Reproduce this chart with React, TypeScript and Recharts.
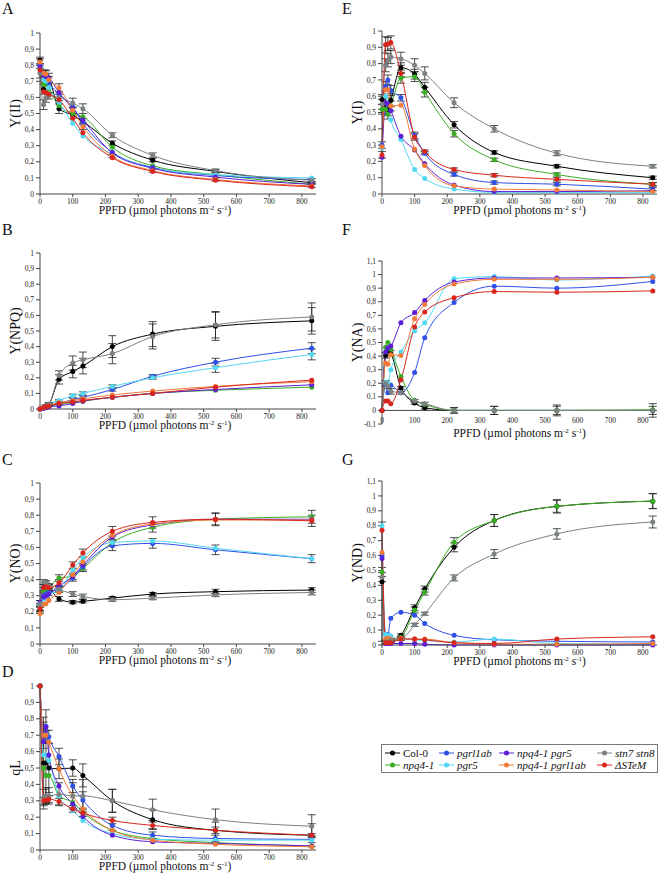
import React from "react";
import { LineChart, Line, XAxis, YAxis, ErrorBar, ReferenceLine } from "recharts";

const serif = "'Liberation Serif', 'DejaVu Serif', serif";

// PPFD steps of the light curve (µmol photons m-2 s-1)
const ppfd = [0, 11, 18, 27, 58, 100, 131, 221, 344, 536, 830];
const xTicks = [0, 100, 200, 300, 400, 500, 600, 700, 800];
const ticks01 = [0, 0.1, 0.2, 0.3, 0.4, 0.5, 0.6, 0.7, 0.8, 0.9, 1];
const ticksNA = [-0.1, 0, 0.1, 0.2, 0.3, 0.4, 0.5, 0.6, 0.7, 0.8, 0.9, 1, 1.1];
const ticksND = [0, 0.1, 0.2, 0.3, 0.4, 0.5, 0.6, 0.7, 0.8, 0.9, 1, 1.1];

const genotypes = ["col0", "npq4", "pgrl1ab", "pgr5", "npq4pgr5", "npq4pgrl1ab", "stn", "stem"];
const names: Record<string, string> = {
  col0: "Col-0",
  npq4: "npq4-1",
  pgrl1ab: "pgrl1ab",
  pgr5: "pgr5",
  npq4pgr5: "npq4-1 pgr5",
  npq4pgrl1ab: "npq4-1 pgrl1ab",
  stn: "stn7 stn8",
  stem: "ΔSTeM",
};
const colors: Record<string, string> = {
  col0: "#000000",
  npq4: "#3aae22",
  pgrl1ab: "#2f50e6",
  pgr5: "#52d8f2",
  npq4pgr5: "#5b1fd8",
  npq4pgrl1ab: "#f27a38",
  stn: "#7b8284",
  stem: "#d8261e",
};

// Y(II)
const yII = {
  col0: [0.83, 0.65, 0.74, 0.72, 0.53, 0.49, 0.45, 0.315, 0.21, 0.14, 0.07],
  npq4: [0.78, 0.68, 0.68, 0.65, 0.55, 0.5, 0.48, 0.29, 0.175, 0.12, 0.06],
  pgrl1ab: [0.8, 0.74, 0.72, 0.69, 0.62, 0.54, 0.44, 0.26, 0.165, 0.115, 0.09],
  pgr5: [0.78, 0.71, 0.7, 0.66, 0.57, 0.44, 0.36, 0.25, 0.16, 0.12, 0.1],
  npq4pgr5: [0.79, 0.74, 0.73, 0.72, 0.63, 0.53, 0.46, 0.255, 0.16, 0.105, 0.06],
  npq4pgrl1ab: [0.82, 0.75, 0.745, 0.71, 0.66, 0.52, 0.42, 0.235, 0.145, 0.09, 0.05],
  stn: [0.75, 0.555, 0.6, 0.61, 0.6, 0.565, 0.53, 0.365, 0.24, 0.145, 0.085],
  stem: [0.77, 0.635, 0.63, 0.62, 0.585, 0.47, 0.38, 0.225, 0.14, 0.085, 0.045],
};
const yIIErr = {
  col0: [0.02, 0.03, 0.03, 0.03, 0.03, 0.02, 0.02, 0.015, 0.01, 0.01, 0.005],
  stn: [0.03, 0.03, 0.03, 0.02, 0.02, 0.03, 0.03, 0.015, 0.015, 0.01, 0.01],
  npq4pgrl1ab: [0.02, 0.02, 0.02, 0.02, 0.025, 0.02, 0.02, 0.01, 0.01, 0.01, 0.01],
};

// Y(NPQ)
const yNPQ = {
  col0: [0, 0.01, 0.02, 0.03, 0.19, 0.24, 0.275, 0.4, 0.48, 0.53, 0.565],
  npq4: [0, 0.005, 0.01, 0.015, 0.03, 0.04, 0.05, 0.075, 0.1, 0.12, 0.14],
  pgrl1ab: [0, 0.005, 0.01, 0.02, 0.035, 0.06, 0.075, 0.125, 0.21, 0.3, 0.39],
  pgr5: [0, 0.01, 0.02, 0.03, 0.055, 0.085, 0.1, 0.145, 0.2, 0.265, 0.35],
  npq4pgr5: [0, 0.005, 0.01, 0.015, 0.02, 0.035, 0.05, 0.075, 0.1, 0.125, 0.155],
  npq4pgrl1ab: [0, 0.01, 0.02, 0.025, 0.04, 0.055, 0.065, 0.09, 0.115, 0.145, 0.175],
  stn: [0, 0.01, 0.02, 0.03, 0.215, 0.295, 0.315, 0.355, 0.465, 0.54, 0.59],
  stem: [0, 0.01, 0.015, 0.02, 0.035, 0.045, 0.055, 0.075, 0.1, 0.14, 0.185],
};
const yNPQErr = {
  col0: [0, 0.005, 0.005, 0.01, 0.03, 0.04, 0.05, 0.07, 0.08, 0.09, 0.085],
  stn: [0, 0.005, 0.005, 0.01, 0.03, 0.045, 0.05, 0.065, 0.08, 0.085, 0.09],
  pgrl1ab: [0, 0, 0, 0.005, 0.005, 0.01, 0.01, 0.01, 0.01, 0.025, 0.035],
  pgr5: [0, 0, 0, 0.005, 0.005, 0.01, 0.01, 0.01, 0.01, 0.03, 0.035],
};

// Y(NO)
const yNO = {
  col0: [0.21, 0.35, 0.365, 0.35, 0.28, 0.26, 0.265, 0.285, 0.31, 0.325, 0.335],
  npq4: [0.23, 0.33, 0.34, 0.35, 0.41, 0.42, 0.47, 0.63, 0.725, 0.775, 0.79],
  pgrl1ab: [0.25, 0.3, 0.31, 0.32, 0.34, 0.41, 0.48, 0.61, 0.625, 0.585, 0.53],
  pgr5: [0.24, 0.28, 0.3, 0.31, 0.33, 0.46, 0.535, 0.63, 0.64, 0.595, 0.53],
  npq4pgr5: [0.26, 0.29, 0.3, 0.31, 0.36, 0.42, 0.49, 0.665, 0.74, 0.775, 0.775],
  npq4pgrl1ab: [0.19, 0.245, 0.25, 0.27, 0.32, 0.43, 0.51, 0.675, 0.745, 0.77, 0.77],
  stn: [0.25, 0.385, 0.38, 0.36, 0.34, 0.31, 0.295, 0.275, 0.285, 0.305, 0.32],
  stem: [0.22, 0.35, 0.355, 0.35, 0.38, 0.49, 0.565, 0.7, 0.755, 0.775, 0.765],
};
const yNOErr = {
  col0: [0.02, 0.02, 0.02, 0.015, 0.015, 0.01, 0.01, 0.01, 0.01, 0.015, 0.015],
  stn: [0.02, 0.015, 0.015, 0.015, 0.015, 0.015, 0.015, 0.01, 0.01, 0.01, 0.015],
  stem: [0.02, 0.02, 0.02, 0.02, 0.02, 0.02, 0.025, 0.03, 0.035, 0.035, 0.035],
  pgrl1ab: [0.02, 0.02, 0.02, 0.02, 0.02, 0.02, 0.02, 0.03, 0.03, 0.03, 0.025],
  npq4: [0.02, 0.02, 0.02, 0.02, 0.02, 0.02, 0.02, 0.02, 0.03, 0.04, 0.04],
};

// qL
const qL = {
  col0: [1, 0.53, 0.53, 0.5, 0.495, 0.5, 0.455, 0.3, 0.185, 0.12, 0.09],
  npq4: [1, 0.5, 0.455, 0.455, 0.33, 0.29, 0.23, 0.12, 0.07, 0.045, 0.025],
  pgrl1ab: [1, 0.7, 0.755, 0.69, 0.57, 0.39, 0.305, 0.15, 0.09, 0.07, 0.065],
  pgr5: [1, 0.58, 0.58, 0.545, 0.33, 0.24, 0.18, 0.1, 0.065, 0.06, 0.06],
  npq4pgr5: [1, 0.66, 0.75, 0.58, 0.39, 0.28, 0.205, 0.09, 0.05, 0.04, 0.025],
  npq4pgrl1ab: [1, 0.7, 0.7, 0.655, 0.495, 0.33, 0.25, 0.12, 0.06, 0.035, 0.02],
  stn: [1, 0.32, 0.33, 0.33, 0.34, 0.33, 0.33, 0.3, 0.245, 0.185, 0.145],
  stem: [1, 0.3, 0.305, 0.31, 0.295, 0.25, 0.225, 0.18, 0.15, 0.12, 0.09],
};
const qLErr = {
  col0: [0, 0.28, 0.2, 0.15, 0.06, 0.05, 0.07, 0.07, 0.06, 0.05, 0.07],
  stn: [0, 0.05, 0.05, 0.05, 0.07, 0.08, 0.1, 0.07, 0.065, 0.065, 0.07],
  pgrl1ab: [0, 0.08, 0.1, 0.04, 0.05, 0.04, 0.05, 0.03, 0.02, 0.02, 0.02],
  stem: [0, 0.02, 0.02, 0.02, 0.02, 0.02, 0.02, 0.02, 0.02, 0.02, 0.01],
};

// Y(I)
const yI = {
  col0: [0.58, 0.55, 0.52, 0.575, 0.775, 0.735, 0.655, 0.425, 0.255, 0.17, 0.1],
  npq4: [0.52, 0.52, 0.49, 0.54, 0.71, 0.72, 0.625, 0.37, 0.21, 0.12, 0.06],
  pgrl1ab: [0.3, 0.66, 0.7, 0.635, 0.59, 0.36, 0.25, 0.12, 0.07, 0.06, 0.03],
  pgr5: [0.28, 0.6, 0.55, 0.455, 0.335, 0.15, 0.095, 0.03, 0.01, 0.01, 0.01],
  npq4pgr5: [0.225, 0.56, 0.55, 0.51, 0.355, 0.27, 0.185, 0.055, 0.015, 0.015, 0.02],
  npq4pgrl1ab: [0.29, 0.64, 0.64, 0.54, 0.545, 0.275, 0.175, 0.05, 0.03, 0.025, 0.015],
  stn: [0.55, 0.79, 0.82, 0.84, 0.83, 0.79, 0.74, 0.56, 0.4, 0.25, 0.17],
  stem: [0.24, 0.915, 0.92, 0.93, 0.74, 0.35, 0.26, 0.15, 0.115, 0.09, 0.06],
};
const yIErr = {
  col0: [0.03, 0.04, 0.04, 0.04, 0.03, 0.03, 0.03, 0.02, 0.01, 0.01, 0.01],
  stn: [0.03, 0.04, 0.04, 0.04, 0.04, 0.04, 0.04, 0.03, 0.02, 0.015, 0.01],
  stem: [0.02, 0.05, 0.04, 0.04, 0.02, 0.02, 0.01, 0.01, 0.01, 0.01, 0.01],
  npq4: [0.03, 0.03, 0.03, 0.03, 0.03, 0.03, 0.03, 0.02, 0.01, 0.01, 0.01],
  pgrl1ab: [0.02, 0.03, 0.03, 0.03, 0.02, 0.02, 0.01, 0.01, 0.01, 0.01, 0.01],
};

// Y(NA)
const yNA = {
  col0: [0, 0.405, 0.44, 0.42, 0.165, 0.055, 0.02, 0, 0, 0, 0],
  npq4: [0, 0.465, 0.5, 0.45, 0.25, 0.075, 0.045, 0, 0, 0, 0.005],
  pgrl1ab: [0, 0.19, 0.13, 0.185, 0.13, 0.28, 0.535, 0.795, 0.915, 0.9, 0.95],
  pgr5: [0, 0.21, 0.2, 0.3, 0.43, 0.585, 0.645, 0.97, 0.985, 0.96, 0.99],
  npq4pgr5: [0, 0.43, 0.46, 0.475, 0.645, 0.72, 0.81, 0.945, 0.975, 0.975, 0.98],
  npq4pgrl1ab: [0, 0.35, 0.34, 0.41, 0.405, 0.675, 0.78, 0.93, 0.965, 0.965, 0.98],
  stn: [0, 0.2, 0.18, 0.14, 0.13, 0.07, 0.05, 0, 0, 0, 0],
  stem: [0, 0.07, 0.07, 0.05, 0.225, 0.615, 0.725, 0.83, 0.875, 0.87, 0.88],
};
const yNAErr = {
  col0: [0, 0.02, 0.02, 0.02, 0.01, 0.01, 0.01, 0.02, 0.03, 0.04, 0.03],
  stn: [0, 0.02, 0.02, 0.02, 0.01, 0.01, 0.01, 0.02, 0.03, 0.03, 0.05],
};

// Y(ND)
const yND = {
  col0: [0.425, 0.015, 0.015, 0.02, 0.065, 0.25, 0.375, 0.655, 0.835, 0.93, 0.965],
  npq4: [0.49, 0.02, 0.02, 0.03, 0.05, 0.235, 0.355, 0.69, 0.835, 0.93, 0.965],
  pgrl1ab: [0.6, 0.07, 0.07, 0.18, 0.22, 0.2, 0.145, 0.065, 0.035, 0.025, 0.02],
  pgr5: [0.8, 0.07, 0.065, 0.06, 0.04, 0.035, 0.03, 0.02, 0.04, 0.01, 0.005],
  npq4pgr5: [0.58, 0.01, 0.01, 0.01, 0.01, 0.01, 0.005, 0, 0, 0, 0],
  npq4pgrl1ab: [0.62, 0.04, 0.045, 0.04, 0.045, 0.04, 0.04, 0.015, 0.005, 0.005, 0.01],
  stn: [0.455, 0.02, 0.02, 0.03, 0.04, 0.135, 0.21, 0.45, 0.61, 0.745, 0.825],
  stem: [0.77, 0.015, 0.015, 0.015, 0.04, 0.04, 0.035, 0.015, 0.01, 0.04, 0.055],
};
const yNDErr = {
  col0: [0.4, 0.01, 0.01, 0.01, 0.01, 0.02, 0.02, 0.03, 0.04, 0.045, 0.05],
  npq4: [0.03, 0.01, 0.01, 0.01, 0.01, 0.02, 0.02, 0.03, 0.04, 0.04, 0.05],
  stn: [0.03, 0.01, 0.01, 0.01, 0.01, 0.01, 0.01, 0.02, 0.03, 0.035, 0.04],
};

const fmt = (v: number) => String(Math.round(v * 10) / 10).replace(".", ",");

function XLabel(props: any) {
  const vb = props.viewBox || { x: 0, y: 0, width: 0 };
  const cx = vb.x + vb.width / 2 + (props.hShift || 0);
  const y = vb.y + (props.vOff || 20);
  return (
    <text x={cx} y={y} textAnchor="middle" fontFamily={serif} fontSize={11.5} fill="#111">
      PPFD (µmol photons m<tspan dy={-4} fontSize={7}>-2</tspan>
      <tspan dy={4}> s</tspan>
      <tspan dy={-4} fontSize={7}>-1</tspan>
      <tspan dy={4}>)</tspan>
    </text>
  );
}

function makeXTick(dy: number) {
  return (p: any) => (
    <text x={p.x} y={p.y} dy={dy} textAnchor="middle" fontSize={7.5} fontFamily={serif} fill="#222">
      {p.payload.value}
    </text>
  );
}

type PanelProps = {
  vals: Record<string, number[]>;
  errs: Record<string, number[]>;
  yLabel: string;
  yTicks: number[];
  yDomain: [number, number];
  left: number;
  top: number;
  plotH: number;
  zeroAxis?: boolean;
};

function Panel({ vals, errs, yLabel, yTicks, yDomain, left, top, plotH, zeroAxis }: PanelProps) {
  const rows = ppfd.map((x, i) => {
    const r: Record<string, number> = { x };
    genotypes.forEach((g) => {
      r[g] = vals[g][i];
      if (errs[g]) r[g + "Err"] = errs[g][i];
    });
    return r;
  });
  const isLeft = left === 0;
  const width = isLeft ? 318 : 316;
  const mr = isLeft ? 2 : 1;
  return (
    <div style={{ position: "absolute", left, top }}>
      <LineChart
        width={width}
        height={plotH + 8 + 28}
        data={rows}
        margin={{ top: 8, right: mr, left: 0, bottom: 0 }}
      >
        <XAxis
          dataKey="x"
          type="number"
          domain={[0, 843]}
          ticks={xTicks}
          interval={0}
          tickSize={3}
          tickMargin={1}
          stroke="#444"
          axisLine={!zeroAxis}
          tickLine={!zeroAxis}
          tick={makeXTick(zeroAxis ? -5 : 5.5)}
          height={28}
          label={<XLabel hShift={isLeft ? -13 : 0} vOff={zeroAxis ? 13 : 20} />}
        />
        <YAxis
          type="number"
          domain={yDomain}
          ticks={yTicks}
          interval={0}
          width={40}
          tickSize={4}
          tickMargin={2}
          stroke="#444"
          tickFormatter={fmt}
          tick={{ fontSize: 7.5, fill: "#222", fontFamily: serif }}
          label={{
            value: yLabel,
            angle: -90,
            position: "insideLeft",
            offset: 15,
            style: { textAnchor: "middle", fontFamily: serif, fontSize: 14, fill: "#111" },
          }}
        />
        {zeroAxis && <ReferenceLine y={0} stroke="#444" />}
        {genotypes.map((g) => (
          <Line
            key={g}
            dataKey={g}
            type="monotone"
            stroke={colors[g]}
            strokeWidth={1}
            dot={{ r: 2.5, fill: colors[g], stroke: colors[g], strokeWidth: 0 }}
            isAnimationActive={false}
          >
            {errs[g] && (
              <ErrorBar dataKey={g + "Err"} width={4} strokeWidth={0.8} stroke="#222" isAnimationActive={false} />
            )}
          </Line>
        ))}
      </LineChart>
    </div>
  );
}

const letterStyle = (left: number, top: number): React.CSSProperties => ({
  position: "absolute",
  left,
  top,
  fontFamily: serif,
  fontSize: 16,
  lineHeight: "16px",
  color: "#111",
});

const legendCols = [
  ["col0", "npq4"],
  ["pgrl1ab", "pgr5"],
  ["npq4pgr5", "npq4pgrl1ab"],
  ["stn", "stem"],
];

function LegendBox() {
  const colX = [3, 57, 117, 215];
  return (
    <div
      style={{
        position: "absolute",
        left: 381,
        top: 744,
        width: 275,
        height: 27,
        border: "1px solid #777",
        fontFamily: serif,
        fontSize: 11,
        color: "#111",
      }}
    >
      {legendCols.map((col, ci) =>
        col.map((g, ri) => (
          <div
            key={g}
            style={{
              position: "absolute",
              left: colX[ci],
              top: 2 + ri * 12,
              height: 12,
              display: "flex",
              alignItems: "center",
              whiteSpace: "nowrap",
            }}
          >
            <svg width={15} height={8} style={{ marginRight: 3 }}>
              <line x1={0} y1={4} x2={15} y2={4} stroke={colors[g]} strokeWidth={1} />
              <circle cx={7.5} cy={4} r={2.5} fill={colors[g]} />
            </svg>
            <span style={{ fontStyle: g === "col0" ? "normal" : "italic" }}>{names[g]}</span>
          </div>
        ))
      )}
    </div>
  );
}

export default function App() {
  return (
    <div style={{ position: "absolute", left: 0, top: 0, width: 658, height: 878, background: "#fff", overflow: "hidden" }}>
      <Panel vals={yII} errs={yIIErr} yLabel="Y(II)" yTicks={ticks01} yDomain={[0, 1]} left={0} top={25} plotH={161} />
      <Panel vals={yNPQ} errs={yNPQErr} yLabel="Y(NPQ)" yTicks={ticks01} yDomain={[0, 1]} left={0} top={245} plotH={156} />
      <Panel vals={yNO} errs={yNOErr} yLabel="Y(NO)" yTicks={ticks01} yDomain={[0, 1]} left={0} top={475} plotH={161} />
      <Panel vals={qL} errs={qLErr} yLabel="qL" yTicks={ticks01} yDomain={[0, 1]} left={0} top={678} plotH={164} />
      <Panel vals={yI} errs={yIErr} yLabel="Y(I)" yTicks={ticks01} yDomain={[0, 1]} left={342} top={23} plotH={163} />
      <Panel vals={yNA} errs={yNAErr} yLabel="Y(NA)" yTicks={ticksNA} yDomain={[-0.1, 1.1]} left={342} top={253} plotH={163} zeroAxis />
      <Panel vals={yND} errs={yNDErr} yLabel="Y(ND)" yTicks={ticksND} yDomain={[0, 1.1]} left={342} top={473} plotH={164} />
      <div style={letterStyle(2, 1)}>A</div>
      <div style={letterStyle(2, 222)}>B</div>
      <div style={letterStyle(2, 452)}>C</div>
      <div style={letterStyle(2, 664)}>D</div>
      <div style={letterStyle(342, 1)}>E</div>
      <div style={letterStyle(342, 222)}>F</div>
      <div style={letterStyle(342, 452)}>G</div>
      <LegendBox />
    </div>
  );
}
